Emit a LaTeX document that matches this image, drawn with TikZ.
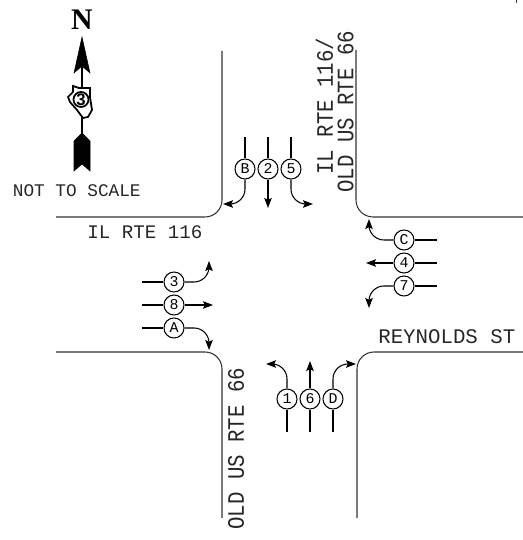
\documentclass[tikz,border=0pt]{standalone}
\usepackage{fontspec}
\setmonofont{Liberation Mono}
\newfontfamily\northfont{Liberation Serif}
\newfontfamily\districtfont{Liberation Sans}
\usetikzlibrary{arrows.meta}
\definecolor{roadline}{RGB}{50, 50, 50}

\begin{document}
\begin{tikzpicture}[
	>={Stealth[length=2mm, width=1.5mm, inset=0.35mm]},
	% Styles for the roads, the movements and the labels
	curbline/.style={draw=roadline, line width=0.6pt, rounded corners=0.34cm},
	mvtline/.style={draw=black, line width=0.6pt, rounded corners=0.3cm},
	phase/.style={circle, draw=black, line width=0.6pt, fill=white, minimum size=0.4cm, inner sep=0pt, font=\ttfamily\fontsize{8.5}{8.5}\selectfont},
	roadlabel/.style={font=\ttfamily\fontsize{11.8}{12}\selectfont, text=black!85, inner sep=0pt},
	sidelabel/.style={roadlabel, font=\ttfamily\fontsize{13.4}{14}\selectfont, rotate=90, xscale=0.88, transform shape, anchor=west},
	northpart/.style={fill=black, draw=black, line width=0.3pt}
	]
	\useasboundingbox (0,0) rectangle (10.46,10.8);
	
	% ==========================================
	% 1. NORTH ARROW
	% ==========================================
	\node[font=\northfont\bfseries\fontsize{17}{17}\selectfont, inner sep=0pt] (north) at (1.64, 10.4) {N};
	\draw[northpart] (1.64, 10.06) -- (1.8, 9.34) -- (1.64, 9.48) -- (1.48, 9.34) -- cycle;
	\draw[line width=0.9pt] (1.64, 9.48) -- (1.64, 7.9);
	% Outline of the state with the district number
	\draw[fill=white, line width=1pt] (1.46,9.08) -- (1.58,9.04) -- (1.8,9.04) -- (1.8,8.86) -- (1.84,8.6) -- (1.76,8.46) -- (1.66,8.44) -- (1.54,8.6) -- (1.4,8.76) -- (1.36,8.86) -- (1.46,8.96) -- cycle;
	\node[circle, draw, line width=1pt, minimum size=0.27cm, inner sep=0pt, font=\districtfont\bfseries\fontsize{9.5}{9.5}\selectfont] (district) at (1.62, 8.81) {3};
	\draw[northpart] (1.64, 8.14) -- (1.8, 7.98) -- (1.8, 7.38) -- (1.64, 7.52) -- (1.48, 7.38) -- (1.48, 7.98) -- cycle;
	\node[roadlabel, font=\ttfamily\fontsize{10.1}{11}\selectfont, anchor=west] (scale) at (0.25, 6.98) {NOT TO SCALE};
	
	% ==========================================
	% 2. CURB LINES
	% ==========================================
	\draw[curbline] (4.44, 9.78) -- (4.44, 6.46) -- (1.12, 6.46);
	\draw[curbline] (7.12, 9.8) -- (7.12, 6.46) -- (10.46, 6.46);
	\draw[curbline] (1.12, 3.76) -- (4.44, 3.76) -- (4.44, 0.44);
	\draw[curbline] (10.46, 3.76) -- (7.14, 3.76) -- (7.14, 0.44);
	% Small mark at the top edge
	\draw[roadline, line width=1pt] (10.33, 10.8) -- (10.33, 10.74);
	
	% Road names
	\node[roadlabel, font=\ttfamily\fontsize{10.9}{12}\selectfont, anchor=west] (ilrte) at (1.74, 6.16) {IL RTE 116};
	\node[roadlabel, anchor=west] (reynolds) at (7.56, 4.06) {REYNOLDS ST};
	\node[sidelabel] (ilrtenorth) at (6.49, 7.3) {IL RTE 116/};
	\node[sidelabel] (oldusnorth) at (6.91, 6.94) {OLD US RTE 66};
	\node[sidelabel] (oldussouth) at (4.72, 0.2) {OLD US RTE 66};
	
	% ==========================================
	% 3. SOUTHBOUND MOVEMENTS
	% ==========================================
	\node[phase] (B) at (4.9, 7.42) {B};
	\node[phase] (two) at (5.36, 7.42) {2};
	\node[phase] (five) at (5.82, 7.42) {5};
	\coordinate (tailB) at (4.9, 8.06);
	\coordinate (tailtwo) at (5.36, 8.06);
	\coordinate (tailfive) at (5.82, 8.06);
	\coordinate (tipB) at (4.46, 6.72);
	\coordinate (tiptwo) at (5.36, 6.64);
	\coordinate (tipfive) at (6.26, 6.72);
	\draw[mvtline] (tailB) -- (B);
	\draw[mvtline] (tailtwo) -- (two);
	\draw[mvtline] (tailfive) -- (five);
	\draw[mvtline, ->] (B) |- (tipB);
	\draw[mvtline, ->] (two) -- (tiptwo);
	\draw[mvtline, ->] (five) |- (tipfive);
	
	% ==========================================
	% 4. WESTBOUND MOVEMENTS
	% ==========================================
	\node[phase] (C) at (8.08, 6.0) {C};
	\node[phase] (four) at (8.08, 5.54) {4};
	\node[phase] (seven) at (8.08, 5.08) {7};
	\coordinate (tailC) at (8.74, 6.0);
	\coordinate (tailfour) at (8.74, 5.54);
	\coordinate (tailseven) at (8.74, 5.08);
	\coordinate (tipC) at (7.38, 6.42);
	\coordinate (tipfour) at (7.32, 5.54);
	\coordinate (tipseven) at (7.38, 4.64);
	\draw[mvtline] (tailC) -- (C);
	\draw[mvtline] (tailfour) -- (four);
	\draw[mvtline] (tailseven) -- (seven);
	\draw[mvtline, ->] (C) -| (tipC);
	\draw[mvtline, ->] (four) -- (tipfour);
	\draw[mvtline, ->] (seven) -| (tipseven);
	
	% ==========================================
	% 5. EASTBOUND MOVEMENTS
	% ==========================================
	\node[phase] (three) at (3.48, 5.16) {3};
	\node[phase] (eight) at (3.48, 4.7) {8};
	\node[phase] (A) at (3.48, 4.24) {A};
	\coordinate (tailthree) at (2.84, 5.16);
	\coordinate (taileight) at (2.84, 4.7);
	\coordinate (tailA) at (2.84, 4.24);
	\coordinate (tipthree) at (4.18, 5.58);
	\coordinate (tipeight) at (4.26, 4.7);
	\coordinate (tipA) at (4.18, 3.8);
	\draw[mvtline] (tailthree) -- (three);
	\draw[mvtline] (taileight) -- (eight);
	\draw[mvtline] (tailA) -- (A);
	\draw[mvtline, ->] (three) -| (tipthree);
	\draw[mvtline, ->] (eight) -- (tipeight);
	\draw[mvtline, ->] (A) -| (tipA);
	
	% ==========================================
	% 6. NORTHBOUND MOVEMENTS
	% ==========================================
	\node[phase] (one) at (5.74, 2.82) {1};
	\node[phase] (six) at (6.2, 2.82) {6};
	\node[phase] (D) at (6.66, 2.82) {D};
	\coordinate (tailone) at (5.74, 2.16);
	\coordinate (tailsix) at (6.2, 2.16);
	\coordinate (tailD) at (6.66, 2.16);
	\coordinate (tipone) at (5.32, 3.52);
	\coordinate (tipsix) at (6.2, 3.58);
	\coordinate (tipD) at (7.12, 3.52);
	\draw[mvtline] (tailone) -- (one);
	\draw[mvtline] (tailsix) -- (six);
	\draw[mvtline] (tailD) -- (D);
	\draw[mvtline, ->] (one) |- (tipone);
	\draw[mvtline, ->] (six) -- (tipsix);
	\draw[mvtline, ->] (D) |- (tipD);
	
\end{tikzpicture}
\end{document}
